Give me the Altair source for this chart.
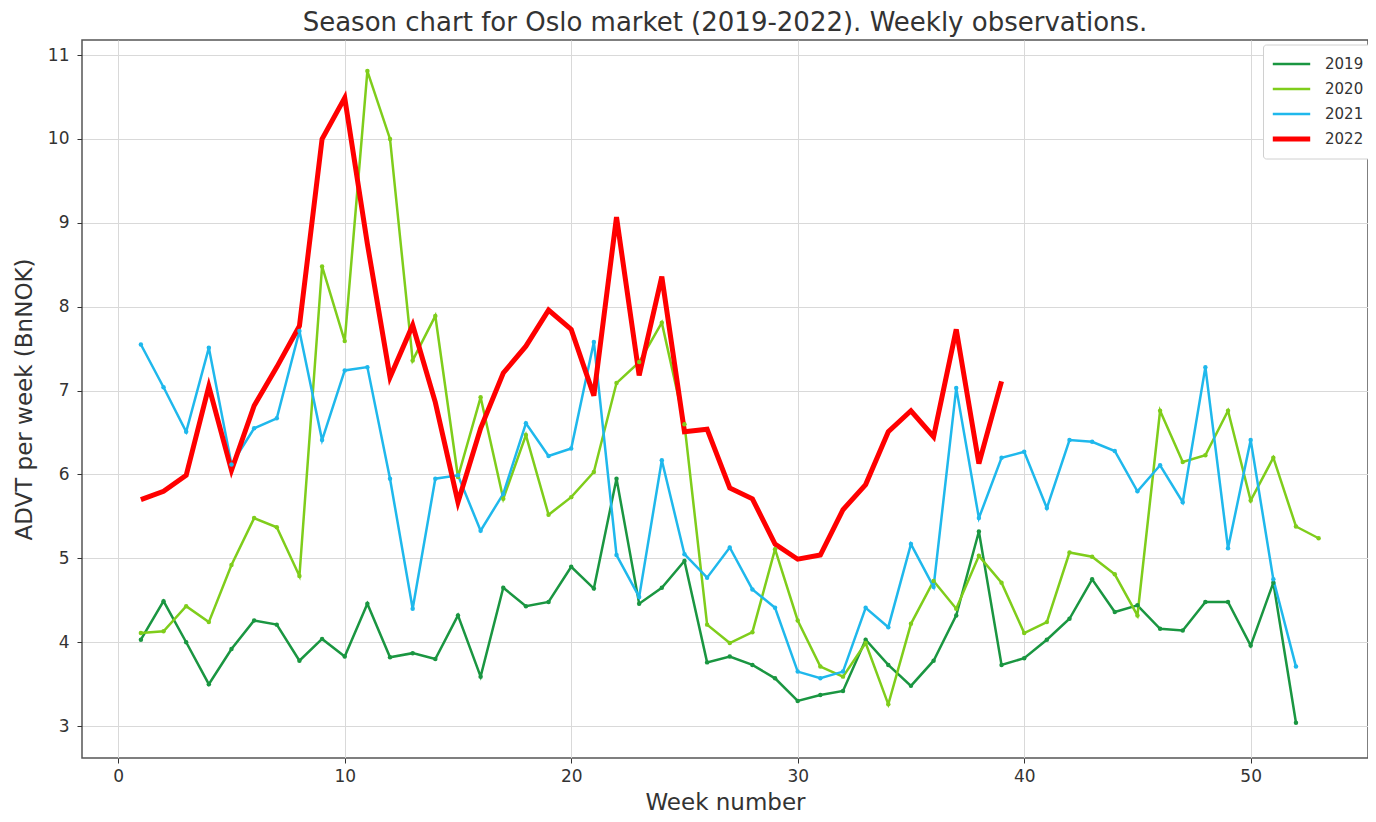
import altair as alt
import pandas as pd

years = ["2019", "2020", "2021", "2022"]
colors = ["#1a9641", "#7fcd1b", "#1fb8ec", "#ff0000"]
widths = [2.5, 2.5, 2.5, 5]

vals_2019 = [4.03, 4.49, 4.00, 3.50, 3.92, 4.26, 4.21, 3.78, 4.04, 3.83,
             4.46, 3.82, 3.87, 3.80, 4.32, 3.59, 4.65, 4.43, 4.48, 4.90,
             4.64, 5.95, 4.46, 4.65, 4.97, 3.76, 3.83, 3.73, 3.57, 3.30,
             3.37, 3.42, 4.03, 3.73, 3.48, 3.78, 4.32, 5.32, 3.73, 3.81,
             4.03, 4.28, 4.75, 4.36, 4.44, 4.16, 4.14, 4.48, 4.48, 3.96,
             4.71, 3.04]
vals_2020 = [4.11, 4.13, 4.43, 4.24, 4.92, 5.48, 5.37, 4.79, 8.48, 7.59,
             10.81, 10.00, 7.36, 7.89, 5.97, 6.92, 5.71, 6.47, 5.52, 5.73,
             6.03, 7.09, 7.34, 7.81, 6.60, 4.21, 3.99, 4.12, 5.11, 4.26,
             3.71, 3.59, 3.99, 3.26, 4.22, 4.73, 4.40, 5.03, 4.71, 4.11,
             4.24, 5.07, 5.02, 4.81, 4.32, 6.76, 6.15, 6.23, 6.76, 5.69,
             6.20, 5.38, 5.24]
vals_2021 = [7.55, 7.04, 6.51, 7.51, 6.12, 6.55, 6.67, 7.71, 6.41, 7.24,
             7.28, 5.95, 4.40, 5.95, 5.99, 5.33, 5.77, 6.61, 6.22, 6.31,
             7.58, 5.04, 4.54, 6.17, 5.05, 4.77, 5.13, 4.63, 4.41, 3.65,
             3.57, 3.65, 4.41, 4.18, 5.17, 4.66, 7.03, 5.48, 6.20, 6.27,
             5.60, 6.41, 6.39, 6.28, 5.80, 6.11, 5.67, 7.28, 5.12, 6.41,
             4.75, 3.71]
vals_2022 = [5.70, 5.80, 5.99, 7.05, 6.05, 6.82, 7.28, 7.77, 10.00, 10.49,
             8.75, 7.16, 7.78, 6.86, 5.67, 6.55, 7.21, 7.53, 7.96, 7.73,
             6.94, 9.07, 7.18, 8.36, 6.51, 6.54, 5.84, 5.71, 5.17, 4.99,
             5.04, 5.58, 5.88, 6.51, 6.76, 6.45, 7.73, 6.13, 7.11]

x_ticks = [0, 10, 20, 30, 40, 50]
y_ticks = [3, 4, 5, 6, 7, 8, 9, 10, 11]

rows = []
for yr, vals in zip(years, [vals_2019, vals_2020, vals_2021, vals_2022]):
    for i, v in enumerate(vals):
        rows.append({"week": i + 1, "value": v, "year": yr})
df = pd.DataFrame(rows)

FONT = "DejaVu Sans"
W, H = 1286, 718

legend = alt.Legend(
    title=None, orient="none", legendX=1181, legendY=4.5,
    symbolType="stroke", symbolSize=1400, clipHeight=25, rowPadding=0,
    labelFontSize=15, labelFont=FONT, labelColor="#333333", labelOffset=12,
    padding=7, strokeColor="#d0d0d0", fillColor="white", cornerRadius=3,
)

x = alt.X("week:Q",
          scale=alt.Scale(domain=[-1.6, 55.18], nice=False, zero=False),
          axis=alt.Axis(values=x_ticks, format="d", title="Week number",
                        titleY=51, titleBaseline="alphabetic"))
y = alt.Y("value:Q",
          scale=alt.Scale(domain=[2.62, 11.18], nice=False, zero=False),
          axis=alt.Axis(values=y_ticks, format="d", title="ADVT per week (BnNOK)",
                        titleX=-58, titleY=H / 2, titleAngle=270,
                        titleBaseline="middle", titleAlign="center",
                        labelPadding=8))
color = alt.Color("year:O", scale=alt.Scale(type="ordinal", domain=years, range=colors),
                  legend=legend)
sw = alt.StrokeWidth("year:O", scale=alt.Scale(type="ordinal", domain=years, range=widths),
                     legend=legend)

lines = alt.Chart(df).mark_line().encode(x=x, y=y, color=color, strokeWidth=sw, order="week:Q")
points = alt.Chart(df).transform_filter(alt.datum.year != "2022").mark_point(
    filled=True, size=20, opacity=1).encode(x=x, y=y, color=color)

chart = alt.layer(lines, points).properties(
    width=W, height=H,
    title=alt.TitleParams("Season chart for Oslo market (2019-2022). Weekly observations.",
                          font=FONT, fontSize=26, fontWeight="normal", color="#333333",
                          anchor="middle", offset=4),
    autosize=alt.AutoSizeParams(type="none"),
    padding={"left": 74, "top": 32, "right": 0, "bottom": 56},
).configure(
    background="white"
).configure_view(
    stroke="#555555", strokeWidth=1.5
).configure_axis(
    grid=True, gridColor="#d9d9d9", gridWidth=1, domain=False,
    tickColor="#333333", tickSize=5, tickWidth=1,
    labelFont=FONT, labelFontSize=17, labelColor="#333333",
    titleFont=FONT, titleFontSize=23, titleFontWeight="normal", titleColor="#333333",
    labelPadding=5,
)

chart.save("out.html", embed_options={"renderer": "svg", "actions": False})
